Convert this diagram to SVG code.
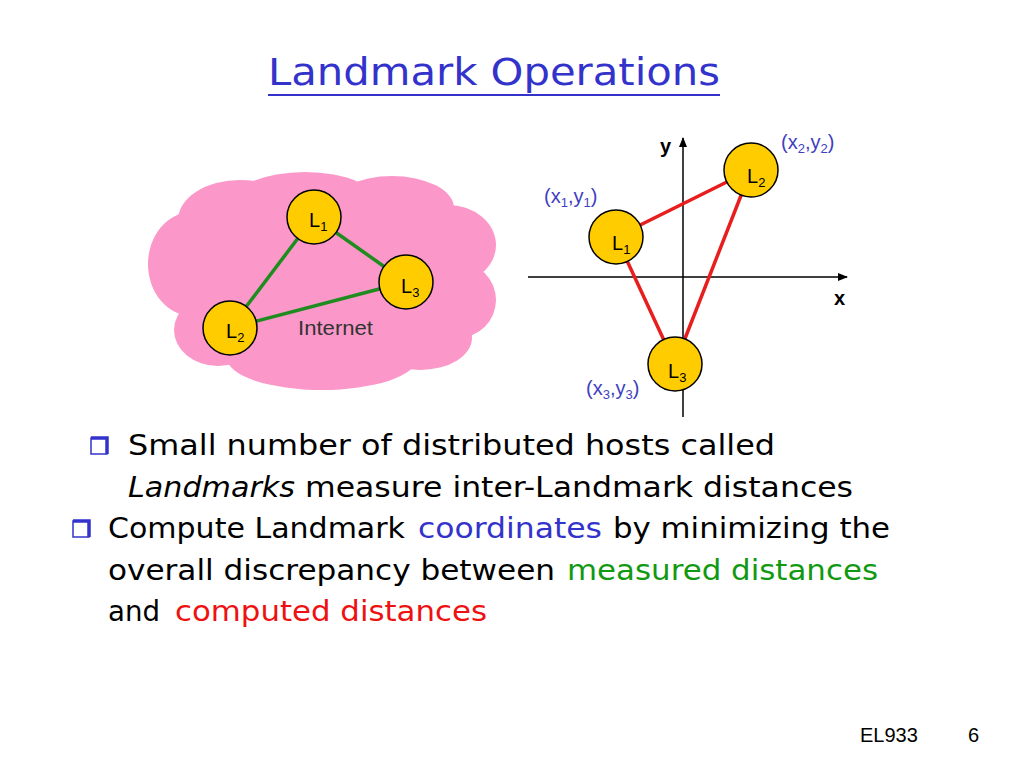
<svg xmlns="http://www.w3.org/2000/svg" width="1024" height="768" viewBox="0 0 1024 768">
<defs>
<style>
.body{font-family:"DejaVu Sans","Liberation Sans",sans-serif;font-size:28px;fill:#000}
.lbl{font-family:"Liberation Sans",Arial,sans-serif;font-size:20px;fill:#000}
.sub{font-size:13px}
.coord{font-family:"Liberation Sans",Arial,sans-serif;font-size:20px;fill:#3f3fbf}
.node{fill:#ffcc00;stroke:#000;stroke-width:1.5}
.g{stroke:#1e8c1e;stroke-width:3.5;fill:none}
.r{stroke:#e81e1e;stroke-width:3.5;fill:none}
.axis{stroke:#000;stroke-width:1.5;fill:none}
.bul{fill:#fff;stroke:#3333cc;stroke-width:1.5}
.bulth{fill:none;stroke:#3333cc;stroke-width:3.5}
</style>
<marker id="arr" markerWidth="10" markerHeight="8" refX="9" refY="4" orient="auto" markerUnits="userSpaceOnUse">
<path d="M0,0 L10,4 L0,8 z" fill="#000"/>
</marker>
</defs>
<rect width="1024" height="768" fill="#fff"/>

<g id="title">
<text x="268" y="85" style="font-family:'DejaVu Sans','Liberation Sans',sans-serif;font-size:37px;fill:#3333cc" textLength="452" lengthAdjust="spacingAndGlyphs">Landmark Operations</text>
<line x1="268" y1="95" x2="720" y2="95" stroke="#3333cc" stroke-width="2"/>
</g>

<g id="cloud" fill="#fb98c9">
<ellipse cx="320" cy="282" rx="150" ry="88"/>
<ellipse cx="240" cy="220" rx="62" ry="40"/>
<ellipse cx="305" cy="205" rx="75" ry="33"/>
<ellipse cx="392" cy="208" rx="62" ry="32"/>
<ellipse cx="448" cy="245" rx="48" ry="40"/>
<ellipse cx="458" cy="300" rx="38" ry="38"/>
<ellipse cx="192" cy="264" rx="44" ry="52"/>
<ellipse cx="218" cy="330" rx="44" ry="36"/>
<ellipse cx="322" cy="358" rx="95" ry="32"/>
<ellipse cx="420" cy="338" rx="52" ry="32"/>
</g>

<g id="cloud-edges">
<line class="g" x1="314" y1="217" x2="230" y2="328"/>
<line class="g" x1="314" y1="217" x2="406" y2="282"/>
<line class="g" x1="230" y1="328" x2="406" y2="282"/>
</g>
<g id="cL1"><circle class="node" cx="314" cy="217" r="27"/><text class="lbl" x="309" y="227">L<tspan class="sub" dy="4">1</tspan></text></g>
<g id="cL3"><circle class="node" cx="406" cy="282" r="27"/><text class="lbl" x="401" y="293">L<tspan class="sub" dy="4">3</tspan></text></g>
<g id="cL2"><circle class="node" cx="230" cy="328" r="27"/><text class="lbl" x="226" y="338">L<tspan class="sub" dy="4">2</tspan></text></g>
<text id="internet" class="lbl" x="298" y="335" style="fill:#333" textLength="75" lengthAdjust="spacingAndGlyphs">Internet</text>

<g id="axes">
<line class="axis" x1="683" y1="417" x2="683" y2="138" marker-end="url(#arr)"/>
<line class="axis" x1="528" y1="277" x2="847" y2="277" marker-end="url(#arr)"/>
<text class="lbl" x="660" y="153" style="font-weight:bold">y</text>
<text class="lbl" x="834" y="305" style="font-weight:bold">x</text>
</g>
<g id="plot-edges">
<line class="r" x1="616" y1="237" x2="751" y2="170"/>
<line class="r" x1="616" y1="237" x2="675" y2="364"/>
<line class="r" x1="751" y1="170" x2="675" y2="364"/>
</g>
<g id="pL1"><circle class="node" cx="616" cy="237" r="27"/><text class="lbl" x="612" y="250">L<tspan class="sub" dy="4">1</tspan></text></g>
<g id="pL2"><circle class="node" cx="751" cy="170" r="27"/><text class="lbl" x="747" y="183">L<tspan class="sub" dy="4">2</tspan></text></g>
<g id="pL3"><circle class="node" cx="675" cy="364" r="27"/><text class="lbl" x="668" y="378">L<tspan class="sub" dy="4">3</tspan></text></g>
<text class="coord" x="781" y="149">(x<tspan class="sub" dy="4">2</tspan><tspan dy="-4">,y</tspan><tspan class="sub" dy="4">2</tspan><tspan dy="-4">)</tspan></text>
<text class="coord" x="544" y="203">(x<tspan class="sub" dy="4">1</tspan><tspan dy="-4">,y</tspan><tspan class="sub" dy="4">1</tspan><tspan dy="-4">)</tspan></text>
<text class="coord" x="586" y="395">(x<tspan class="sub" dy="4">3</tspan><tspan dy="-4">,y</tspan><tspan class="sub" dy="4">3</tspan><tspan dy="-4">)</tspan></text>

<g id="bullets">
<rect class="bul" x="91" y="438" width="16" height="16"/>
<path class="bulth" d="M91 438 H107 V454"/>
<rect class="bul" x="73" y="521" width="16" height="16"/>
<path class="bulth" d="M73 521 H89 V537"/>
</g>
<g id="text">
<text class="body" x="128" y="455" textLength="647" lengthAdjust="spacingAndGlyphs">Small number of distributed hosts called</text>
<text class="body" x="128" y="497" textLength="167" lengthAdjust="spacingAndGlyphs" font-style="italic">Landmarks</text>
<text class="body" x="305" y="497" textLength="548" lengthAdjust="spacingAndGlyphs">measure inter-Landmark distances</text>
<text class="body" x="108" y="538" textLength="297" lengthAdjust="spacingAndGlyphs">Compute Landmark</text>
<text class="body" x="418" y="538" textLength="184" lengthAdjust="spacingAndGlyphs" style="fill:#3333cc">coordinates</text>
<text class="body" x="613" y="538" textLength="277" lengthAdjust="spacingAndGlyphs">by minimizing the</text>
<text class="body" x="108" y="580" textLength="447" lengthAdjust="spacingAndGlyphs">overall discrepancy between</text>
<text class="body" x="567" y="580" textLength="311" lengthAdjust="spacingAndGlyphs" style="fill:#119911">measured distances</text>
<text class="body" x="108" y="621" textLength="52" lengthAdjust="spacingAndGlyphs">and</text>
<text class="body" x="175" y="621" textLength="312" lengthAdjust="spacingAndGlyphs" style="fill:#ee1111">computed distances</text>
</g>
<g id="footer">
<text class="lbl" x="860" y="742">EL933</text>
<text class="lbl" x="968" y="742">6</text>
</g>
</svg>
